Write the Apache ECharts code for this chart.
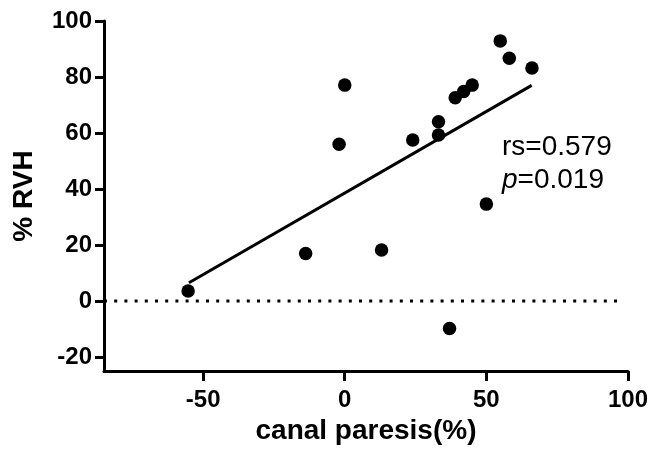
<!DOCTYPE html>
<html>
<head>
<meta charset="utf-8">
<script src="https://cdn.jsdelivr.net/npm/echarts@6/dist/echarts.min.js"></script>
<style>html,body{margin:0;padding:0;background:#fff}#c{width:651px;height:452px}</style>
</head>
<body>
<div id="c"></div>
<script>
var canalParesis = [54.9, 58.1, 66.1, 0, 45, 42, 39, 33.1, 33.1, 24, -2, 50, -55.3, -13.8, 13, 37];
var rvh = [92.9, 86.7, 83.2, 77.1, 77.1, 74.8, 72.6, 64, 59.3, 57.5, 56, 34.6, 3.6, 17, 18.2, -9.8];
var fitX = [-55, 66];
var fitY = [6.5, 77];
var zeroX = [-85, 97.5];
var xTicks = [-50, 0, 50, 100];
var yTicks = [-20, 0, 20, 40, 60, 80, 100];
var statsLine1 = 'rs=0.579';
var statsP = 'p';
var statsLine2 = '=0.019';

var FONT = '"Liberation Sans", Arial, sans-serif';
var chart = echarts.init(document.getElementById('c'), null, {renderer: 'canvas'});
var points = canalParesis.map(function (x, i) { return [x, rvh[i]]; });
var fit = fitX.map(function (x, i) { return [x, fitY[i]]; });
var zero = zeroX.map(function (x) { return [x, 0]; });

chart.setOption({
  backgroundColor: '#fff',
  animation: false,
  title: {
    left: 497, top: 126,
    text: '{a|' + statsLine1 + '}\n{b|' + statsP + '}{a|' + statsLine2 + '}',
    textStyle: {
      fontWeight: 'normal',
      rich: {
        a: {fontFamily: FONT, fontSize: 28, fontWeight: 'normal', color: '#000', lineHeight: 33},
        b: {fontFamily: FONT, fontSize: 28, fontWeight: 'normal', color: '#000', lineHeight: 33, fontStyle: 'italic'}
      }
    }
  },
  grid: {left: 104, right: 21, top: 21, bottom: 81, containLabel: false},
  xAxis: {
    type: 'value', min: -85, max: 100,
    splitLine: {show: false},
    axisLine: {show: true, onZero: false, lineStyle: {color: '#000', width: 3}},
    axisTick: {show: true, customValues: xTicks, length: 10, lineStyle: {color: '#000', width: 3}},
    axisLabel: {customValues: xTicks, color: '#000', fontFamily: FONT, fontWeight: 'bold', fontSize: 24, margin: 17},
    name: 'canal paresis(%)', nameLocation: 'middle', nameGap: 38,
    nameTextStyle: {color: '#000', fontFamily: FONT, fontWeight: 'bold', fontSize: 28}
  },
  yAxis: {
    type: 'value', min: -25, max: 100,
    splitLine: {show: false},
    axisLine: {show: true, onZero: false, lineStyle: {color: '#000', width: 3}},
    axisTick: {show: true, customValues: yTicks, length: 9, lineStyle: {color: '#000', width: 3}},
    axisLabel: {customValues: yTicks, color: '#000', fontFamily: FONT, fontWeight: 'bold', fontSize: 24, margin: 12},
    name: '% RVH', nameLocation: 'middle', nameGap: 66, nameRotate: 90,
    nameTextStyle: {color: '#000', fontFamily: FONT, fontWeight: 'bold', fontSize: 28}
  },
  series: [
    {
      type: 'line', data: zero, symbol: 'none', silent: true,
      lineStyle: {color: '#000', width: 3, type: [3, 7.2]}
    },
    {
      type: 'line', data: fit, symbol: 'none', silent: true,
      lineStyle: {color: '#000', width: 3}
    },
    {
      type: 'scatter', data: points, symbol: 'circle', symbolSize: 13.5,
      itemStyle: {color: '#000', opacity: 1}
    }
  ]
});
</script>
</body>
</html>
